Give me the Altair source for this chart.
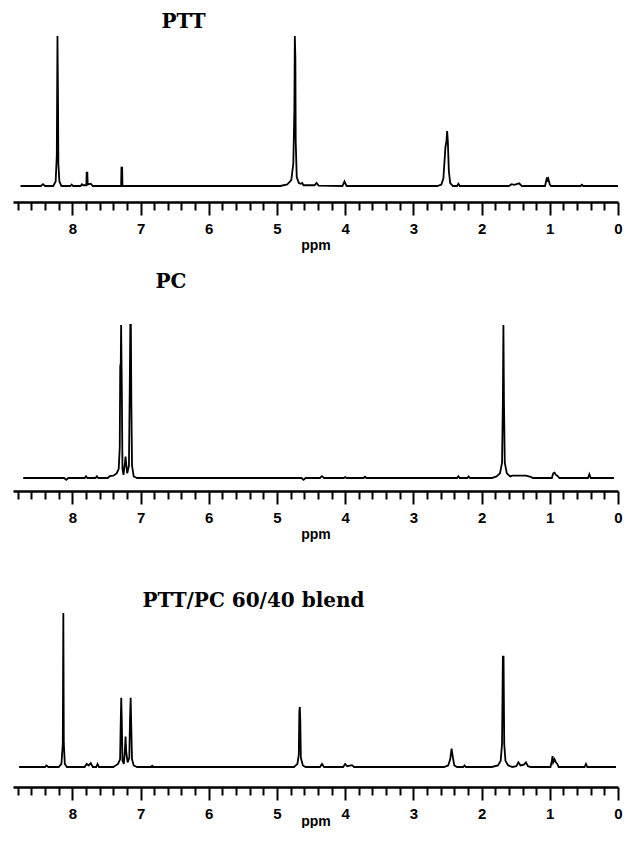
import altair as alt
import pandas as pd

# ---------------- data ----------------
PTT_PPM = [8.76, 8.46, 8.43, 8.40, 8.28, 8.245, 8.228, 8.218, 8.21, 8.205, 8.19, 8.16,
           8.03, 8.01, 7.99, 7.88, 7.86, 7.84, 7.795, 7.79, 7.78, 7.775, 7.73, 7.70,
           7.285, 7.28, 7.27, 7.265, 4.95, 4.85, 4.79, 4.76, 4.745, 4.738, 4.73, 4.725,
           4.71, 4.68, 4.65, 4.63, 4.61, 4.45, 4.42, 4.39, 4.04, 4.01, 3.98,
           2.65, 2.59, 2.56, 2.53, 2.515, 2.505, 2.495, 2.48, 2.46, 2.42,
           2.36, 2.34, 2.32, 1.60, 1.56, 1.52, 1.45, 1.41,
           1.07, 1.05, 1.04, 1.03, 1.02, 1.00, 0.98, 0.55, 0.53, 0.51, 0.0]
PTT_INT = [0.0, 0.0, 0.012, 0.0, 0.0, 0.03, 0.2, 1.0, 0.55, 0.15, 0.03, 0.0,
           0.0, 0.01, 0.0, 0.0, 0.012, 0.005, 0.005, 0.089, 0.089, 0.01, 0.015, 0.0,
           0.0, 0.122, 0.122, 0.0, 0.0, 0.01, 0.04, 0.15, 0.5, 1.0, 0.85, 0.3,
           0.06, 0.02, 0.015, 0.02, 0.005, 0.005, 0.02, 0.003, 0.0, 0.03, 0.0,
           0.0, 0.01, 0.05, 0.26, 0.3, 0.367, 0.3, 0.1, 0.02, 0.0,
           0.0, 0.015, 0.0, 0.0, 0.012, 0.008, 0.018, 0.0,
           0.0, 0.04, 0.058, 0.03, 0.045, 0.01, 0.0, 0.0, 0.008, 0.0, 0.0]

PC_PPM = [8.72, 8.12, 8.09, 8.06, 7.82, 7.80, 7.78, 7.66, 7.64, 7.62, 7.48, 7.45, 7.40,
          7.35, 7.32, 7.305, 7.298, 7.29, 7.285, 7.275, 7.265, 7.25, 7.228, 7.22, 7.212,
          7.195, 7.17, 7.158, 7.15, 7.142, 7.135, 7.125, 7.10, 7.05,
          4.64, 4.61, 4.58, 4.37, 4.34, 4.31, 4.02, 4.00, 3.98, 3.73, 3.71, 3.69,
          2.36, 2.34, 2.32, 2.21, 2.19, 2.17, 1.85, 1.78, 1.73, 1.70, 1.688, 1.68,
          1.672, 1.66, 1.63, 1.58, 1.55, 1.45, 1.35, 1.28, 1.25,
          0.97, 0.95, 0.93, 0.91, 0.89, 0.86, 0.44, 0.42, 0.40, 0.06]
PC_INT = [0.0, 0.0, -0.012, 0.0, 0.0, 0.012, 0.0, 0.0, 0.012, 0.0, 0.0, 0.012, 0.015,
          0.03, 0.06, 0.2, 0.73, 0.75, 1.0, 0.6, 0.06, 0.02, 0.10, 0.14, 0.10,
          0.03, 0.08, 0.6, 1.0, 1.0, 0.5, 0.08, 0.01, 0.0,
          0.0, -0.012, 0.0, 0.0, 0.012, 0.0, 0.0, 0.006, 0.0, 0.0, 0.008, 0.0,
          0.0, 0.012, 0.0, 0.0, 0.01, 0.0, 0.0, 0.01, 0.03, 0.1, 0.5, 1.0,
          0.5, 0.1, 0.03, 0.01, 0.015, 0.015, 0.015, 0.008, 0.0,
          0.0, 0.03, 0.035, 0.02, 0.015, 0.0, 0.0, 0.025, 0.0, 0.0]

BLEND_PPM = [8.78, 8.40, 8.38, 8.35, 8.20, 8.16, 8.14, 8.132, 8.125, 8.11, 8.08,
             7.82, 7.79, 7.76, 7.73, 7.70, 7.65, 7.63, 7.61, 7.40, 7.33, 7.30, 7.29,
             7.283, 7.275, 7.265, 7.245, 7.23, 7.22, 7.21, 7.19, 7.165, 7.155, 7.145,
             7.138, 7.125, 7.10, 7.05, 6.85, 6.83, 6.81,
             4.75, 4.70, 4.68, 4.672, 4.665, 4.658, 4.65, 4.62, 4.58, 4.37, 4.34, 4.31,
             4.03, 4.00, 3.97, 3.90, 3.87, 2.55, 2.49, 2.46, 2.44, 2.42, 2.40, 2.36,
             2.27, 2.25, 2.23, 1.85, 1.76, 1.72, 1.70, 1.688, 1.678, 1.668, 1.65, 1.61,
             1.55, 1.49, 1.46, 1.43, 1.38, 1.35, 1.32, 1.28,
             0.99, 0.97, 0.96, 0.95, 0.93, 0.91, 0.89, 0.87, 0.49, 0.47, 0.45, 0.03]
BLEND_INT = [0.0, 0.0, 0.01, 0.0, 0.0, 0.02, 0.15, 1.0, 0.15, 0.02, 0.0,
             0.0, 0.02, 0.01, 0.025, 0.0, 0.0, 0.02, 0.0, 0.0, 0.02, 0.05, 0.3,
             0.45, 0.3, 0.04, 0.02, 0.1, 0.197, 0.1, 0.03, 0.06, 0.3, 0.45,
             0.3, 0.05, 0.01, 0.0, 0.0, 0.008, 0.0,
             0.0, 0.02, 0.08, 0.36, 0.39, 0.3, 0.06, 0.01, 0.0, 0.0, 0.02, 0.0,
             0.0, 0.02, 0.005, 0.012, 0.0, 0.0, 0.01, 0.05, 0.12, 0.06, 0.01, 0.0,
             0.0, 0.01, 0.0, 0.0, 0.01, 0.04, 0.15, 0.716, 0.716, 0.15, 0.04, 0.01,
             0.0, 0.005, 0.03, 0.01, 0.015, 0.03, 0.005, 0.0,
             0.0, 0.04, 0.07, 0.03, 0.05, 0.03, 0.02, 0.0, 0.0, 0.02, 0.0, 0.0]

TITLES = ["PTT", "PC", "PTT/PC 60/40 blend"]
TICK_VALUES = [0, 0.2, 0.4, 0.6, 0.8, 1, 1.2, 1.4, 1.6, 1.8, 2, 2.2, 2.4, 2.6, 2.8,
               3, 3.2, 3.4, 3.6, 3.8, 4, 4.2, 4.4, 4.6, 4.8, 5, 5.2, 5.4, 5.6, 5.8,
               6, 6.2, 6.4, 6.6, 6.8, 7, 7.2, 7.4, 7.6, 7.8, 8, 8.2, 8.4, 8.6, 8.8]
X_DOMAIN = [8.87, 0]
PLOT_W = 605

IS_INT = "abs(datum.value - round(datum.value)) < 0.01"


def make_axis(title_pad):
    return alt.Axis(
        values=TICK_VALUES,
        title="ppm",
        grid=False,
        labelExpr=f"{IS_INT} ? format(datum.value, 'd') : ''",
        labelFlush=False,
        labelOverlap=False,
        labelFont="Liberation Sans",
        labelFontWeight="bold",
        labelFontSize=15,
        labelColor="black",
        labelPadding=6,
        tickSize={"condition": {"test": IS_INT, "value": 13}, "value": 8},
        tickWidth=2,
        tickColor="black",
        domainColor="black",
        domainWidth=2.7,
        titleFont="Liberation Sans",
        titleFontSize=14,
        titleFontWeight="bold",
        titleColor="black",
        titlePadding=title_pad,
    )


def panel(ppm, inten, title, tx, ty, ymin, ymax, h, title_pad):
    df = pd.DataFrame({"ppm": ppm, "inten": inten})
    line = alt.Chart(df).mark_line(color="black", strokeWidth=1.8, clip=True).encode(
        x=alt.X("ppm:Q", scale=alt.Scale(domain=X_DOMAIN, nice=False, zero=False),
                axis=make_axis(title_pad)),
        y=alt.Y("inten:Q", scale=alt.Scale(domain=[ymin, ymax], nice=False, zero=False), axis=None),
    )
    txt = alt.Chart(pd.DataFrame({"t": [title]})).mark_text(
        font="DejaVu Serif", fontWeight="bold", fontSize=20, align="center",
        baseline="alphabetic", color="black",
    ).encode(text="t:N", x=alt.value(tx), y=alt.value(ty))
    return alt.layer(line, txt).properties(width=PLOT_W, height=h)


p1 = panel(PTT_PPM, PTT_INT, TITLES[0], 170.5, 20, -0.1067, 1.1867, 194, 2)
p2 = panel(PC_PPM, PC_INT, TITLES[1], 158, 36, -0.085, 1.477, 239, 2)
p3 = panel(BLEND_PPM, BLEND_INT, TITLES[2], 240.5, 66, -0.1299, 1.4675, 246, -7)

chart = alt.vconcat(p1, p2, p3, spacing=50, bounds="flush").properties(
    padding={"left": 5, "top": 0, "right": 0, "bottom": 0}
).configure_view(stroke=None)

chart.save("out.html", embed_options={"renderer": "svg", "actions": False})
